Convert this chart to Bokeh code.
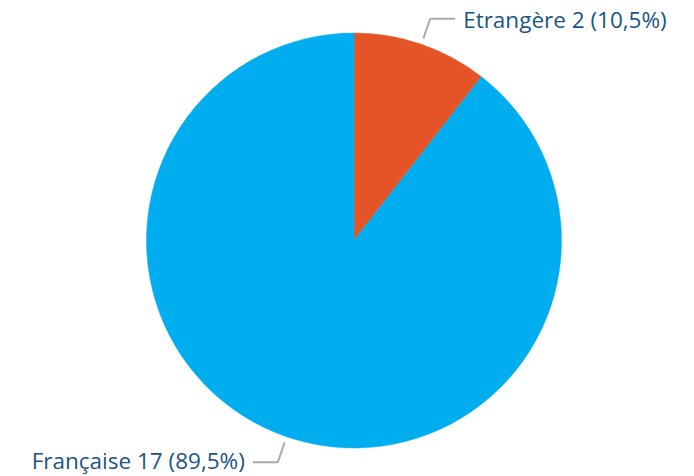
import math
from bokeh.plotting import figure
from bokeh.models import Range1d
from bokeh.core.properties import value
from bokeh.embed import file_html
from bokeh.resources import INLINE

categories = ["Etrangère", "Française"]
counts = [2, 17]
percent_labels = ["10,5%", "89,5%"]
colors = ["#E55427", "#00AEEF"]

W, H = 694, 476
p = figure(width=W, height=H, output_backend="svg", toolbar_location=None,
           x_range=Range1d(0, W), y_range=Range1d(-H, 0),
           min_border=0, outline_line_color=None)
p.axis.visible = False
p.grid.visible = False
p.background_fill_color = "white"

cx, cy, r = 353.5, -240.0, 207.5
total = sum(counts)
start = math.pi / 2
starts, ends, mids = [], [], []
for c in counts:
    sweep = 2 * math.pi * c / total
    starts.append(start)
    ends.append(start - sweep)
    mids.append(start - sweep / 2)
    start -= sweep

p.wedge(x=[cx] * len(counts), y=[cy] * len(counts), radius=r,
        start_angle=starts, end_angle=ends, direction="clock",
        fill_color=colors, line_color=colors, line_width=0.5)

for cat, cnt, pct, a in zip(categories, counts, percent_labels, mids):
    x0, y0 = cx + (r + 6) * math.cos(a), cy + (r + 6) * math.sin(a)
    x1, y1 = cx + (r + 27) * math.cos(a), cy + (r + 27) * math.sin(a)
    right = math.cos(a) >= 0
    x2 = x1 + (25 if right else -25)
    p.line([x0, x1, x2], [y0, y1, y1], line_color="#AAAAAA", line_width=2)
    tx = x2 + (8 if right else -8)
    ty = y1 - 1 if right else y1 + 2
    p.text(x=[tx], y=[ty], text=[f"{cat} {cnt} ({pct})"],
           text_font=value("Open Sans"), text_font_size="22.5px",
           text_color="#1B5585", text_baseline="middle",
           text_align="left" if right else "right")

open("out.html", "w").write(file_html(p, INLINE))
